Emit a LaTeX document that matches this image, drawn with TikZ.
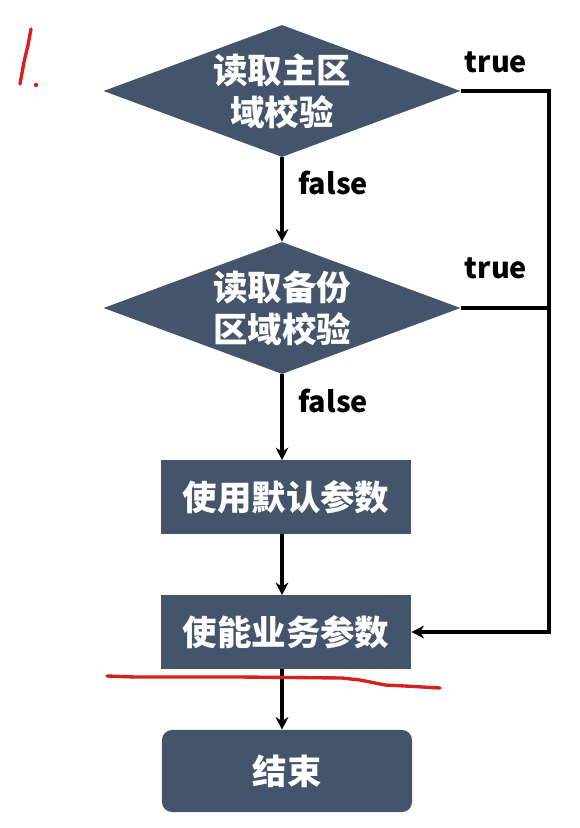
\documentclass[tikz,border=0pt]{standalone}
\usepackage{fontspec}
\newfontfamily\cjk{Noto Sans CJK SC}
\usepackage{tikz}
\usetikzlibrary{positioning,shapes.geometric,arrows.meta}
\usepackage{xcolor}
\definecolor{slate}{HTML}{44546A}
\definecolor{pen}{HTML}{D81E1E}

\begin{document}
\begin{tikzpicture}[
        x=0.025cm, y=-0.025cm,
        every node/.style={font=\cjk\bfseries\fontsize{24.5}{30}\selectfont},
        check/.style={diamond,shape aspect=2.7,fill=slate,text=white,align=center,inner sep=0pt,
                      minimum width=8.925cm,minimum height=3.3cm},
        stepbox/.style={rectangle,fill=slate,text=white,inner sep=0pt,
                        minimum width=6.25cm,minimum height=1.825cm},
        endbox/.style={stepbox,rounded corners=0.25cm,minimum height=2.05cm},
        tag/.style={font=\cjk\bfseries\fontsize{20.5}{24}\selectfont,text=black,inner sep=0pt},
        line/.style={black,line width=2.2pt},
        conn/.style={line,-{Stealth[length=9pt,width=9pt]}},
        ink/.style={pen,line width=2.4pt,line cap=round,line join=round},
      ]
      \useasboundingbox (0,0) rectangle (579,828);

      % decisions
      \node[check] (d1) at (282,91)  {读取主区\\域校验};
      \node[check] (d2) at (282,308) {读取备份\\区域校验};
      % actions
      \node[stepbox] (b1) at (286,497) {使用默认参数};
      \node[stepbox] (b2) at (286,632) {使能业务参数};
      \node[endbox]  (b3) at (287,771) {结束};

      % branch labels
      \node[tag] (f1) at (333,183) {false};
      \node[tag] (f2) at (333,401) {false};
      \node[tag] (t1) at (496,62)  {true};
      \node[tag] (t2) at (496,268) {true};

      \coordinate (rt) at (549,91);

      \draw[conn] (d1.south) -- (d2.north);
      \draw[conn] (d2.south) -- (b1.north -| d2.south);
      \draw[conn] (b1.south -| d2.south) -- (b2.north -| d2.south);
      \draw[conn] (b2.south -| d2.south) -- (b3.north -| d2.south);
      \draw[conn] (d1.east) -- (rt) |- (b2.east);
      \draw[line] (d2.east) -- (d2.east -| rt);

      % hand-written notes
      \draw[ink] (31,29) -- (28,45) -- (24,62) -- (20,84);
      \fill[pen] (36,85) circle (2.2);
      \draw[ink] (107,676) -- (135,677) -- (240,677) -- (342,678) -- (360,680)
                  -- (385,685) -- (405,686) -- (440,688);
    \end{tikzpicture}
\end{document}
